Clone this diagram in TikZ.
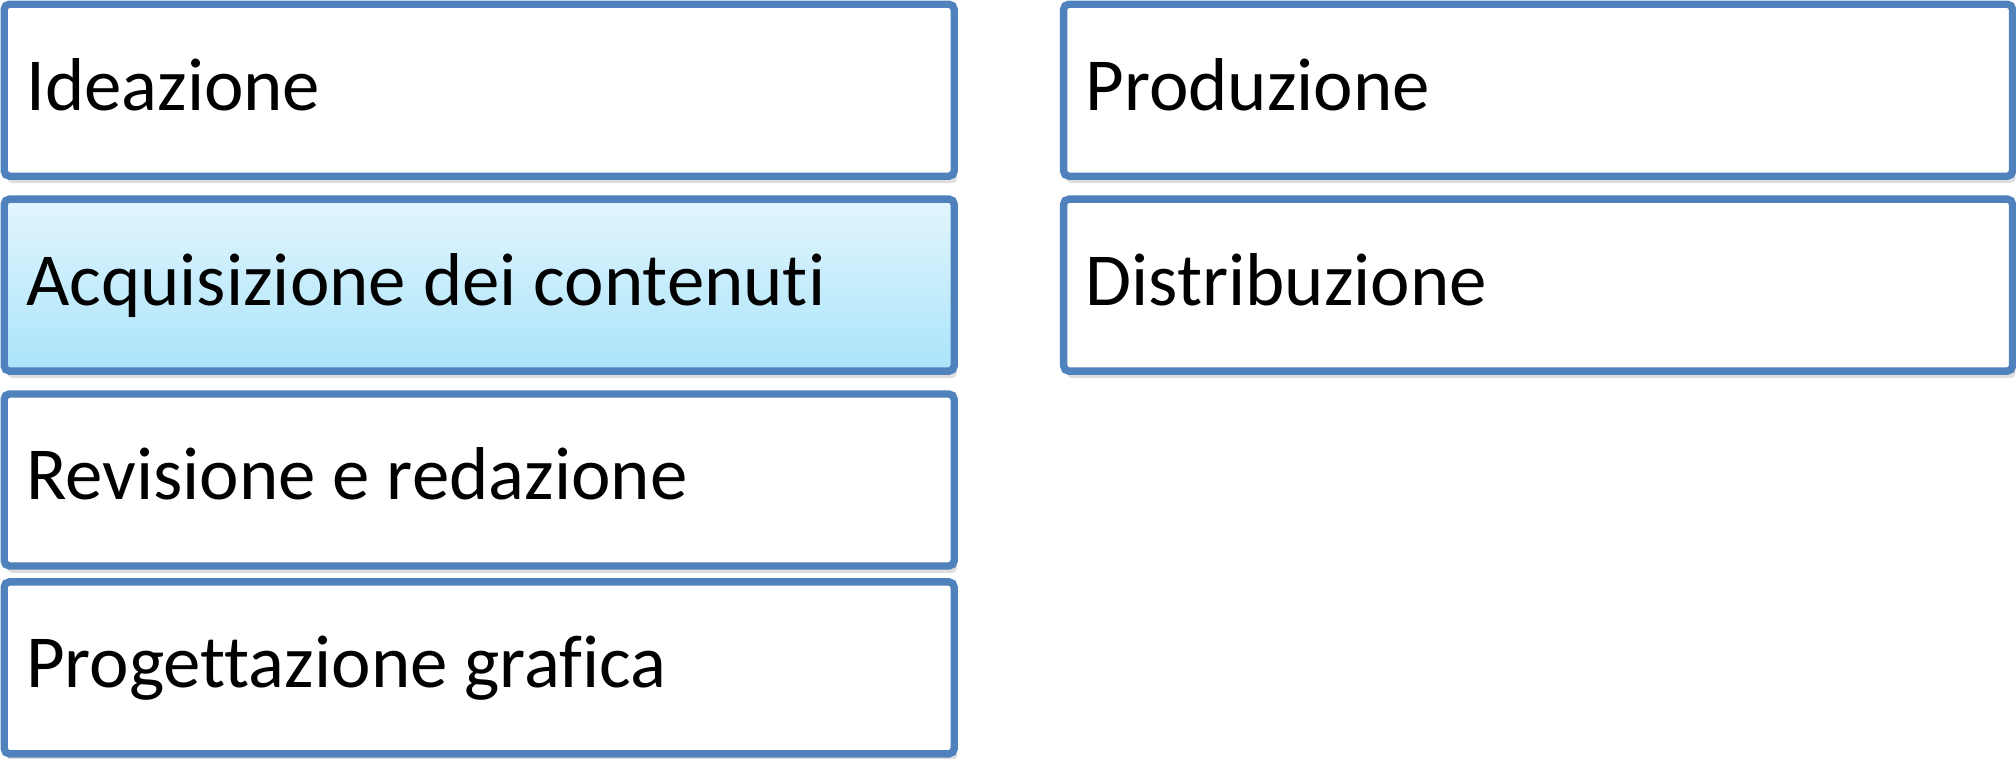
\documentclass[tikz,border=0pt]{standalone}
\usepackage{fontspec}
\setmainfont{Carlito}[Ligatures=NoCommon]
\usepackage{tikz}
\usetikzlibrary{positioning,shadows}
\definecolor{bordo}{RGB}{79,129,189}
\definecolor{cielo1}{RGB}{226,245,253}
\definecolor{cielo2}{RGB}{170,228,250}
\tikzset{
  fase/.style={draw=bordo,line width=2.1pt,rounded corners=1.5pt,fill=white,
    minimum width=9.5cm,minimum height=1.72cm,text width=9.06cm,align=flush left,
    inner xsep=0.22cm,text height=0.62cm,text depth=0.22cm,
    font=\fontsize{21.3}{25}\selectfont,
    drop shadow={shadow xshift=0.03cm,shadow yshift=-0.07cm,fill=black,opacity=0.13}},
  scelta/.style={fase,top color=cielo1,bottom color=cielo2},
  fasedx/.style={fase,minimum width=9.49cm,text width=9.05cm}
}
\begin{document}
\begin{tikzpicture}[node distance=0.155cm]
  \useasboundingbox (0,0) rectangle (20.16,-7.58);
  % colonna sinistra
  \node[fase,anchor=north west] (ideaz) at (0.005,-0.005) {Ideazione};
  \node[scelta,below=of ideaz] (acquis) {Acquisizione dei contenuti};
  \node[fase,below=of acquis] (revis) {Revisione e redazione};
  \node[fase,below=0.085cm of revis] (progr) {Progettazione grafica};
  % colonna destra
  \node[fasedx,anchor=north west] (produz) at ([xshift=1.02cm]ideaz.north east) {Produzione};
  \node[fasedx,below=of produz] (distr) {Distribuzione};
\end{tikzpicture}
\end{document}
